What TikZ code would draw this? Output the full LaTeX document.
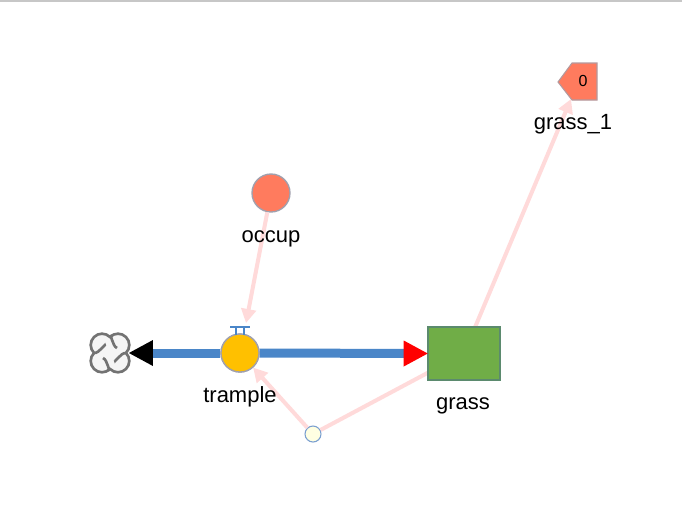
\documentclass[tikz,border=0pt]{standalone}
\usepackage{fontspec}
\setmainfont{Liberation Sans}
\usetikzlibrary{arrows.meta}
\definecolor{pipeblue}{HTML}{4A86C8}
\definecolor{linkpink}{HTML}{FFDADA}
\definecolor{coral}{HTML}{FF7B5E}
\definecolor{valveor}{HTML}{FFC000}
\definecolor{grassgreen}{HTML}{70AD47}
\definecolor{grassedge}{HTML}{5B8A6E}
\definecolor{auxfill}{HTML}{FFFFE2}
\definecolor{auxedge}{HTML}{7A9FD0}
\definecolor{greyedge}{HTML}{A0A0AE}
\begin{document}
\begin{tikzpicture}[x=0.75pt,y=-0.75pt,
  lbl/.style={font=\fontsize{16.5}{19}\selectfont, text=black, inner sep=0pt},
  pipe/.style={draw=pipeblue, line width=6.75pt},
  link/.style={draw=linkpink, line width=3pt},
  linkarrow/.style={link, -{Triangle[length=10.5pt,width=11pt,fill=linkpink,color=linkpink]}},
  circnode/.style={circle, minimum size=28.5pt, inner sep=0pt, line width=1pt},
  cloudline/.style={draw=black!55, line width=2pt}
]
\useasboundingbox (0,0) rectangle (682,512);
\fill[white] (0,0) rectangle (682,512);
\fill[black!22] (0,0) rectangle (682,2);

% nodes
\node[circnode, fill=valveor, draw=greyedge] (valve) at (240,353) {};
\node[circnode, fill=coral, draw=greyedge] (occup) at (271,193) {};
\node[circle, minimum size=12pt, inner sep=0pt, fill=auxfill, draw=auxedge, line width=0.8pt] (aux) at (313,434) {};
\node[minimum width=54pt, minimum height=39.75pt, inner sep=0pt] (grass) at (464,353.5) {};
\node[circle, minimum size=28pt, inner sep=0pt] (cloud) at (110,353) {};

% grass_1 pentagon
\filldraw[fill=coral, draw=greyedge!80!coral, line width=0.8pt]
  (558,82) -- (572,63) -- (597,63) -- (597,100) -- (572,100) -- cycle;
\node[font=\fontsize{12}{14}\selectfont, inner sep=0pt] (g1val) at (583,81) {0};
\coordinate (g1) at (571,99);
\coordinate (vtop) at (246,323);

% links
\draw[link] (aux) -- (grass);
\draw[linkarrow] (aux) -- (valve);
\draw[linkarrow] (occup) -- (vtop);
\draw[linkarrow] (grass) -- (g1);

% grass box on top
\filldraw[fill=grassgreen, draw=grassedge, line width=1.2pt] (grass.south west) rectangle (grass.north east);

% pipes
\draw[pipe, shorten >=16pt] (valve.east) -- (grass.west);
\fill[red] (grass.west) -- ++(-24,-13) -- ++(0,26) -- cycle;
\draw[pipe, shorten >=16pt] (valve.west) -- (cloud.east);
\fill[black] (cloud.east) -- ++(24,-13) -- ++(0,26) -- cycle;

% valve redraw on top of pipes
\filldraw[fill=valveor, draw=greyedge, line width=1pt] (valve) circle (19);
% valve T
\draw[pipeblue, line width=1.2pt] (230,327) -- (250,327);
\draw[pipeblue, line width=1.2pt] (236,327) -- (236,335) (244,327) -- (244,335);

% cloud (pinwheel)
\begin{scope}[shift={(110,353)}]
  \filldraw[fill=black!4, cloudline]
    (0,-16) arc[start angle=225, end angle=405, radius=11.3]
            arc[start angle=-45, end angle=135, radius=11.3]
            arc[start angle=45, end angle=225, radius=11.3]
            arc[start angle=135, end angle=315, radius=11.3] -- cycle;
  \draw[cloudline] (0,-16) to[out=80, in=160] (7,-5);
  \draw[cloudline] (16,0) to[out=170, in=250] (5,7);
  \draw[cloudline] (0,16) to[out=260, in=340] (-7,5);
  \draw[cloudline] (-16,0) to[out=-10, in=70] (-5,-7);
\end{scope}

% labels
\node[lbl] (tlabel) at (240,397) {trample};
\node[lbl] (olabel) at (271,239) {occup};
\node[lbl] (glabel) at (463,406) {grass};
\node[lbl] (g1label) at (573,124) {grass\_1};
\end{tikzpicture}
\end{document}
